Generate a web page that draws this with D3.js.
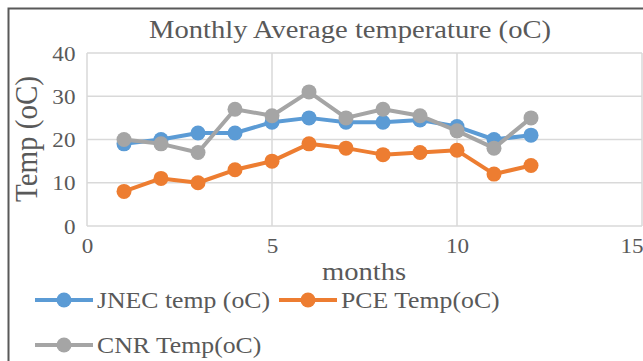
<!DOCTYPE html>
<html>
<head>
<meta charset="utf-8">
<script src="https://cdn.jsdelivr.net/npm/d3@7"></script>
<style>
  body { margin: 0; background: #fff; }
  svg text { font-family: "Liberation Serif", "Times New Roman", serif; fill: #595959; }
</style>
</head>
<body>
<div id="chart"></div>
<script>
// data
var months = [1, 2, 3, 4, 5, 6, 7, 8, 9, 10, 11, 12];
var jnecTemp = [19, 20, 21.5, 21.5, 24, 25, 24, 24, 24.5, 23, 20, 21];
var pceTemp = [8, 11, 10, 13, 15, 19, 18, 16.5, 17, 17.5, 12, 14];
var cnrTemp = [20, 19, 17, 27, 25.5, 31, 25, 27, 25.5, 22, 18, 25];
var seriesNames = ["JNEC temp (oC)", "PCE Temp(oC)", "CNR Temp(oC)"];
var seriesColors = ["#5B9BD5", "#ED7D31", "#A5A5A5"];
var xTicks = [0, 5, 10, 15];
var yTicks = [0, 10, 20, 30, 40];

var svgWidth = 643;
var svgHeight = 361;
var margin = { top: 53, left: 87 };
var plotWidth = 555;   // 0..15 ends right at the window edge like the screenshot
var height = 173;

// the source screenshot is squeezed a bit, so text comes out wider than normal
var stretch = 1.1;

var svg = d3.select("#chart")
  .append("svg")
  .attr("width", svgWidth)
  .attr("height", svgHeight)
  .attr("font-family", "Liberation Serif");

// outer chart frame
svg.append("rect")
  .attr("x", 8.5)
  .attr("y", 8.5)
  .attr("width", 660)
  .attr("height", 400)
  .attr("fill", "#fff")
  .attr("stroke", "#595959")
  .attr("stroke-width", 2);

var chartGroup = svg.append("g")
  .attr("transform", `translate(${margin.left}, ${margin.top})`);

var xScale = d3.scaleLinear().domain([0, 15]).range([0, plotWidth]);
var yScale = d3.scaleLinear().domain([0, 40]).range([height, 0]);

// gridlines
chartGroup.append("g")
  .selectAll("line")
  .data(yTicks)
  .enter()
  .append("line")
  .attr("x1", 0)
  .attr("x2", xScale(15))
  .attr("y1", d => yScale(d))
  .attr("y2", d => yScale(d))
  .attr("stroke", "#D9D9D9")
  .attr("stroke-width", 1.5);

chartGroup.append("g")
  .selectAll("line")
  .data(xTicks)
  .enter()
  .append("line")
  .attr("x1", d => xScale(d))
  .attr("x2", d => xScale(d))
  .attr("y1", 0)
  .attr("y2", height)
  .attr("stroke", "#D9D9D9")
  .attr("stroke-width", 1.5);

// axes, labels only (Excel style)
var bottomAxis = d3.axisBottom(xScale).tickValues(xTicks).tickSize(0).tickPadding(11);
var leftAxis = d3.axisLeft(yScale).tickValues(yTicks).tickSize(0).tickPadding(11);

var xAxisGroup = chartGroup.append("g")
  .attr("transform", `translate(0, ${height})`)
  .call(bottomAxis)
  .call(g => g.select(".domain").remove());

xAxisGroup.selectAll("text")
  .attr("font-size", "22px")
  .attr("transform", "scale(1.05,1)");

// last label is pulled inside the chart edge
xAxisGroup.selectAll(".tick text")
  .filter(d => d === 15)
  .attr("text-anchor", "end")
  .attr("x", 1);

chartGroup.append("g")
  .call(leftAxis)
  .call(g => g.select(".domain").remove())
  .selectAll("text")
  .attr("font-size", "22px")
  .attr("transform", "scale(1.05,1)");

// series
var allSeries = [jnecTemp, pceTemp, cnrTemp];
var line = d3.line()
  .x((d, i) => xScale(months[i]))
  .y(d => yScale(d));

allSeries.forEach(function(values, s) {
  chartGroup.append("path")
    .datum(values)
    .attr("d", line)
    .attr("fill", "none")
    .attr("stroke", seriesColors[s])
    .attr("stroke-width", 4)
    .attr("stroke-linejoin", "round");

  chartGroup.append("g")
    .selectAll("circle")
    .data(values)
    .enter()
    .append("circle")
    .attr("cx", (d, i) => xScale(months[i]))
    .attr("cy", d => yScale(d))
    .attr("r", 7.5)
    .attr("fill", seriesColors[s]);
});

// titles
svg.append("text")
  .attr("transform", `translate(350, 38) scale(${stretch},1)`)
  .attr("text-anchor", "middle")
  .attr("font-size", "26px")
  .text("Monthly Average temperature (oC)");

svg.append("text")
  .attr("transform", `translate(364, 280) scale(${stretch},1)`)
  .attr("text-anchor", "middle")
  .attr("font-size", "26px")
  .text("months");

svg.append("text")
  .attr("transform", `translate(37, 139) scale(${stretch},1) rotate(-90)`)
  .attr("text-anchor", "middle")
  .attr("font-size", "29px")
  .text("Temp (oC)");

// legend
var legendPos = [[35, 300], [279, 300], [35, 345]];
var legend = svg.selectAll("g.legend")
  .data(seriesNames)
  .enter()
  .append("g")
  .attr("class", "legend")
  .attr("transform", (d, i) => `translate(${legendPos[i][0]}, ${legendPos[i][1]})`);

legend.append("line")
  .attr("x1", 0)
  .attr("x2", 58)
  .attr("stroke", (d, i) => seriesColors[i])
  .attr("stroke-width", 4);

legend.append("circle")
  .attr("cx", 29)
  .attr("r", 7.5)
  .attr("fill", (d, i) => seriesColors[i]);

legend.append("text")
  .attr("transform", "translate(62, 8) scale(1.12,1)")
  .attr("font-size", "23px")
  .text(d => d);
</script>
</body>
</html>
